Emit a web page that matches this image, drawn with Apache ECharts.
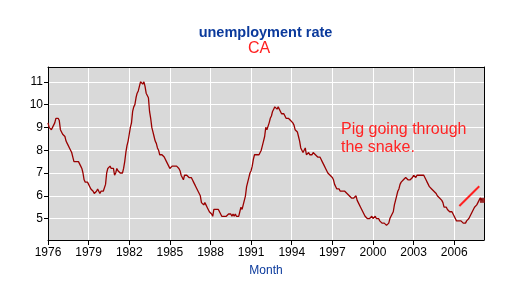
<!DOCTYPE html>
<html>
<head>
<meta charset="utf-8">
<script src="https://cdn.jsdelivr.net/npm/echarts@6/dist/echarts.min.js"></script>
<style>
html,body{margin:0;padding:0;background:#fff;}
#chart{width:524px;height:282px;}
</style>
</head>
<body>
<div id="chart"></div>
<script>
// Monthly California unemployment rate, Jan 1976 onward
const startYear = 1976;
const rate = [
  9.2, 9.0, 9.0, 8.9, 8.9, 9.1, 9.2, 9.4, 9.4, 9.4, 9.3, 8.9,   // 1976
  8.8, 8.7, 8.7, 8.6, 8.4, 8.3, 8.2, 8.1, 8.1, 7.9, 7.7, 7.5,   // 1977
  7.5, 7.5, 7.5, 7.5, 7.4, 7.3, 7.2, 7.0, 6.7, 6.6, 6.6, 6.6,   // 1978
  6.5, 6.4, 6.3, 6.3, 6.2, 6.1, 6.1, 6.2, 6.3, 6.3, 6.1, 6.2,   // 1979
  6.2, 6.2, 6.2, 6.5, 7.0, 7.2, 7.2, 7.3, 7.2, 7.2, 7.2, 6.9,   // 1980
  7.0, 7.2, 7.1, 7.1, 7.0, 7.0, 7.0, 7.2, 7.5, 7.9, 8.2, 8.4,   // 1981
  8.7, 9.0, 9.2, 9.7, 9.9, 10.0, 10.3, 10.5, 10.6, 10.8, 11.0, 11.0, // 1982
  10.9, 11.0, 10.8, 10.5, 10.4, 10.3, 9.7, 9.4, 9.0, 8.8, 8.6, 8.4, // 1983
  8.3, 8.1, 8.0, 7.8, 7.8, 7.8, 7.8, 7.7, 7.7, 7.5, 7.4, 7.3,   // 1984
  7.2, 7.2, 7.3, 7.3, 7.3, 7.3, 7.3, 7.3, 7.2, 7.1, 6.9, 6.9,   // 1985
  6.7, 6.9, 6.9, 6.9, 6.9, 6.8, 6.8, 6.8, 6.7, 6.6, 6.5, 6.4,   // 1986
  6.4, 6.2, 6.1, 6.0, 5.7, 5.7, 5.6, 5.7, 5.6, 5.5, 5.4, 5.3,   // 1987
  5.3, 5.2, 5.1, 5.4, 5.4, 5.4, 5.4, 5.4, 5.3, 5.2, 5.1, 5.1,   // 1988
  5.1, 5.1, 5.1, 5.1, 5.2, 5.2, 5.2, 5.1, 5.2, 5.1, 5.2, 5.1,   // 1989
  5.1, 5.1, 5.3, 5.5, 5.4, 5.6, 5.8, 6.0, 6.4, 6.6, 6.8, 7.0,   // 1990
  7.1, 7.3, 7.6, 7.8, 7.8, 7.8, 7.8, 7.8, 7.9, 8.0, 8.2, 8.4,   // 1991
  8.6, 9.0, 8.9, 8.9, 9.2, 9.4, 9.5, 9.7, 9.8, 9.9, 9.9, 9.8,   // 1992
  9.9, 9.9, 9.7, 9.6, 9.6, 9.6, 9.5, 9.4, 9.4, 9.4, 9.4, 9.3,   // 1993
  9.3, 9.2, 9.1, 8.9, 8.9, 8.8, 8.6, 8.4, 8.1, 8.0, 7.9, 7.9,   // 1994
  8.1, 7.8, 7.8, 7.9, 7.8, 7.8, 7.8, 7.9, 7.9, 7.8, 7.8, 7.7,   // 1995
  7.7, 7.7, 7.6, 7.5, 7.4, 7.3, 7.2, 7.1, 7.0, 7.0, 6.9, 6.9,   // 1996
  6.8, 6.7, 6.5, 6.4, 6.3, 6.3, 6.3, 6.2, 6.2, 6.2, 6.2, 6.2,   // 1997
  6.2, 6.1, 6.1, 6.0, 6.0, 5.9, 5.9, 5.9, 5.9, 6.0, 5.8, 5.7,   // 1998
  5.7, 5.5, 5.4, 5.3, 5.2, 5.1, 5.1, 5.0, 5.0, 5.0, 5.0, 5.1,   // 1999
  5.0, 5.0, 5.1, 5.0, 5.0, 5.0, 4.9, 4.9, 4.8, 4.8, 4.8, 4.8,   // 2000
  4.7, 4.7, 4.8, 5.0, 5.1, 5.2, 5.3, 5.6, 5.8, 6.0, 6.2, 6.3,   // 2001
  6.5, 6.6, 6.6, 6.7, 6.7, 6.8, 6.8, 6.7, 6.7, 6.7, 6.7, 6.8,   // 2002
  6.9, 6.9, 6.8, 6.9, 6.9, 6.9, 6.9, 6.9, 6.9, 6.9, 6.8, 6.7,   // 2003
  6.6, 6.5, 6.4, 6.4, 6.3, 6.3, 6.2, 6.2, 6.1, 6.0, 6.0, 5.9,   // 2004
  5.9, 5.8, 5.7, 5.5, 5.5, 5.5, 5.4, 5.4, 5.3, 5.3, 5.3, 5.2,   // 2005
  5.1, 5.0, 4.9, 4.9, 4.9, 4.9, 4.9, 4.9, 4.8, 4.8, 4.8, 4.9,   // 2006
  4.9, 5.0, 5.1, 5.2, 5.3, 5.4, 5.5, 5.5, 5.6, 5.7, 5.8, 5.9,   // 2007
  5.9, 5.8                                                       // 2008
];
const xTickYears = [1976, 1979, 1982, 1985, 1988, 1991, 1994, 1997, 2000, 2003, 2006];
const yTicks = [5, 6, 7, 8, 9, 10, 11];
// hand-drawn annotation stroke, in data units [year, rate]
const arrowLine = [[2006.38, 5.55], [2007.85, 6.42]];
const titleText = 'unemployment rate';
const subtitleText = 'CA';
const noteText = 'Pig going through\nthe snake.';
const xName = 'Month';

const seriesData = rate.map((v, i) => [startYear + i / 12, v]);
const last = seriesData[seriesData.length - 1];

const chart = echarts.init(document.getElementById('chart'), null, {renderer: 'canvas'});
const FONT = '"Liberation Sans", Arial, sans-serif';
chart.setOption({
  animation: false,
  backgroundColor: '#ffffff',
  grid: {left: 48, right: 40, top: 67, bottom: 39, containLabel: false, show: true,
         backgroundColor: '#d9d9d9', borderWidth: 0},
  xAxis: [{
    type: 'value', min: 1976, max: 2008.2,
    name: xName, nameLocation: 'middle', nameGap: 25,
    nameTextStyle: {color: '#0b3a9c', fontSize: 12, fontFamily: FONT},
    axisLine: {show: true, onZero: false, lineStyle: {color: '#000', width: 1}},
    axisTick: {show: true, length: 5, lineStyle: {color: '#000'}, customValues: xTickYears},
    axisLabel: {color: '#000', fontSize: 12, fontFamily: FONT, margin: 7,
                customValues: xTickYears, formatter: v => String(Math.round(v))},
    splitLine: {show: true, lineStyle: {color: '#ffffff', width: 1}}
  }, {
    type: 'value', position: 'top', min: 1976, max: 2008.2,
    axisLine: {show: true, onZero: false, lineStyle: {color: '#000', width: 1}},
    axisTick: {show: false}, axisLabel: {show: false}, splitLine: {show: false}
  }],
  yAxis: [{
    type: 'value', min: 4.06, max: 11.65,
    axisLine: {show: true, onZero: false, lineStyle: {color: '#000', width: 1}},
    axisTick: {show: true, length: 4, lineStyle: {color: '#000'}, customValues: yTicks},
    axisLabel: {color: '#000', fontSize: 12, fontFamily: FONT, margin: 5,
                customValues: yTicks},
    splitLine: {show: true, lineStyle: {color: '#ffffff', width: 1}}
  }, {
    type: 'value', position: 'right', min: 4.06, max: 11.65,
    axisLine: {show: true, onZero: false, lineStyle: {color: '#000', width: 1}},
    axisTick: {show: false}, axisLabel: {show: false}, splitLine: {show: false}
  }],
  series: [{
    type: 'line', data: seriesData, showSymbol: false, symbol: 'none',
    lineStyle: {color: '#990000', width: 1.3}, z: 3
  }, {
    type: 'scatter', data: [last], symbol: 'rect', symbolSize: 5,
    itemStyle: {color: '#8a0000'}, z: 4
  }, {
    type: 'line', data: arrowLine, symbol: 'none',
    lineStyle: {color: '#ff2020', width: 2}, z: 4
  }],
  graphic: [
    {type: 'text', x: 265.5, y: 33, style: {text: titleText, fill: '#0b3a9c',
      font: 'bold 14.5px ' + FONT, align: 'center', verticalAlign: 'middle'}},
    {type: 'text', x: 259, y: 49, style: {text: subtitleText, fill: '#ff2020',
      font: '16px ' + FONT, align: 'center', verticalAlign: 'middle'}},
    {type: 'text', x: 341, y: 120, style: {text: noteText, fill: '#ff2424',
      font: '16px ' + FONT, lineHeight: 18.5, align: 'left', verticalAlign: 'top'}, z: 10}
  ]
});
</script>
</body>
</html>
